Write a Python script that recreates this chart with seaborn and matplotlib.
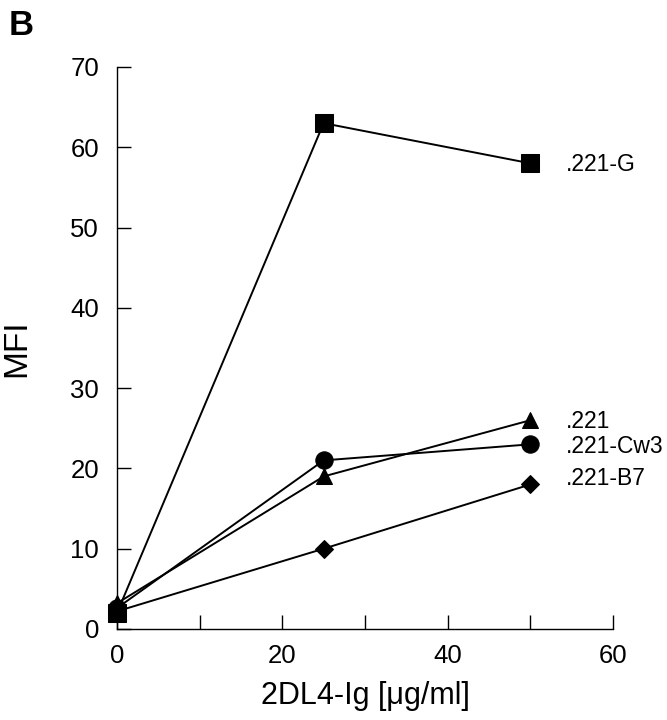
import numpy as np
import pandas as pd
import seaborn as sns
import matplotlib.pyplot as plt

# concentrations of 2DL4-Ig
conc = [0, 25, 50]

# MFI per cell line
mfi_G = [2, 63, 58]
mfi_221 = [3.2, 19, 26]
mfi_Cw3 = [2.6, 21, 23]
mfi_B7 = [2.2, 10, 18]

lines = ['.221-G', '.221', '.221-Cw3', '.221-B7']
values = [mfi_G, mfi_221, mfi_Cw3, mfi_B7]
label_y = [57.8, 25.8, 22.7, 18.8]

df = pd.DataFrame({
    'conc': conc * len(lines),
    'mfi': np.concatenate(values),
    'line': np.repeat(lines, len(conc)),
})

sns.set_style('ticks')
plt.rcParams['font.family'] = ['Liberation Sans', 'DejaVu Sans']
plt.rcParams['text.color'] = 'black'
plt.rcParams['axes.labelcolor'] = 'black'
plt.rcParams['xtick.color'] = 'black'
plt.rcParams['ytick.color'] = 'black'

fig = plt.figure(figsize=(6.67, 7.2), dpi=100)
ax = fig.add_axes([0.1754, 0.1264, 0.919 - 0.1754, 0.907 - 0.1264])

markers = {'.221-G': 's', '.221': '^', '.221-Cw3': 'o', '.221-B7': 'D'}
sizes = {'.221-G': 13, '.221': 12, '.221-Cw3': 12.5, '.221-B7': 9.5}
for name in lines:
    sub = df[df['line'] == name]
    sns.lineplot(data=sub, x='conc', y='mfi', color='black', marker=markers[name],
                 markersize=sizes[name], markeredgecolor='black', linewidth=1.4, ax=ax)

for name, yy in zip(lines, label_y):
    ax.text(54.3, yy, name, fontsize=16.5, va='center', ha='left')

ax.set_xlim(0, 60)
ax.set_ylim(0, 70)
ax.set_xticks(np.arange(0, 61, 10))
ax.set_xticklabels(['0', '', '20', '', '40', '', '60'])
ax.set_yticks(np.arange(0, 71, 10))
ax.tick_params(direction='in', length=10, width=1, labelsize=18.5)
ax.tick_params(axis='y', pad=13)
ax.tick_params(axis='x', pad=11)
sns.despine(ax=ax)
for s in ['left', 'bottom']:
    ax.spines[s].set_linewidth(1)
    ax.spines[s].set_color('black')
for ln in ax.lines:
    ln.set_clip_on(False)

ax.set_xlabel('2DL4-Ig [\u03bcg/ml]', fontsize=22, labelpad=9)
ax.set_ylabel('MFI', fontsize=24)
ax.yaxis.set_label_coords(-0.171, 0.5)
fig.text(0.013, 0.965, 'B', fontsize=25, fontweight='bold', va='center')

fig.savefig('out.png', dpi=100)
